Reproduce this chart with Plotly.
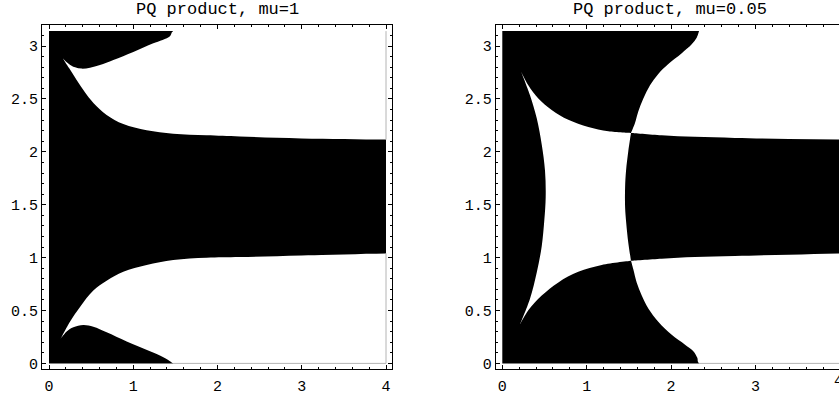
import plotly.graph_objects as go

W, H = 839, 396
PI = 3.14159

# ---------------- mu = 1 (left panel) ----------------
# lower edge of the top black wedge (from cusp to tip at y=pi)
m1_topwedge_x = [0.162, 0.229, 0.309, 0.388, 0.487, 0.605, 0.764, 1.001, 1.238, 1.436, 1.475]
m1_topwedge_y = [2.886, 2.836, 2.799, 2.787, 2.796, 2.821, 2.868, 2.945, 3.026, 3.094, 3.1416]
# upper edge of the central black band (from cusp to x=4)
m1_bandtop_x = [0.162, 0.240, 0.328, 0.420, 0.530, 0.684, 0.882, 1.159, 1.475, 1.871, 2.267, 3.0, 4.0]
m1_bandtop_y = [2.886, 2.790, 2.680, 2.570, 2.460, 2.349, 2.263, 2.204, 2.172, 2.157, 2.145, 2.127, 2.116]
# lower edge of the central black band (from cusp to x=4)
m1_bandbot_x = [0.139, 0.249, 0.368, 0.526, 0.684, 0.882, 1.159, 1.475, 1.871, 2.267, 3.0, 4.0]
m1_bandbot_y = [0.233, 0.394, 0.534, 0.689, 0.782, 0.866, 0.931, 0.978, 0.999, 1.005, 1.020, 1.040]
# upper edge of the bottom black wedge (from cusp to tip at y=0)
m1_botwedge_x = [0.139, 0.210, 0.289, 0.407, 0.526, 0.684, 0.922, 1.199, 1.357, 1.436, 1.475]
m1_botwedge_y = [0.233, 0.301, 0.341, 0.363, 0.347, 0.295, 0.208, 0.115, 0.059, 0.021, 0.0]

# ---------------- mu = 0.05 (right panel) ----------------
# right edge of the top black wedge (tip at y=pi down to crossing)
m2_topwedge_x = [2.331, 2.303, 2.244, 2.126, 1.967, 1.848, 1.750, 1.671, 1.611, 1.572, 1.525]
m2_topwedge_y = [3.1416, 3.079, 3.017, 2.933, 2.831, 2.737, 2.629, 2.505, 2.381, 2.272, 2.179]
# band edges (crossing to x=4)
m2_bandtop_x = [1.525, 1.889, 2.283, 2.757, 3.4, 4.0]
m2_bandtop_y = [2.179, 2.157, 2.142, 2.132, 2.122, 2.116]
m2_bandbot_x = [1.525, 1.889, 2.283, 2.757, 3.4, 4.0]
m2_bandbot_y = [0.971, 0.990, 1.006, 1.015, 1.028, 1.040]
# right edge of the bottom black wedge (crossing down to tip at y=0)
m2_botwedge_x = [1.525, 1.552, 1.592, 1.652, 1.730, 1.848, 2.007, 2.165, 2.263, 2.310, 2.331]
m2_botwedge_y = [0.971, 0.891, 0.766, 0.642, 0.519, 0.394, 0.270, 0.177, 0.115, 0.053, 0.0]
# central white region edges
m2_ctop_x = [0.222, 0.308, 0.427, 0.585, 0.782, 1.019, 1.256, 1.525]
m2_ctop_y = [2.759, 2.629, 2.505, 2.396, 2.303, 2.235, 2.195, 2.179]
m2_cright_x = [1.525, 1.493, 1.466, 1.455, 1.455, 1.468, 1.493, 1.525]
m2_cright_y = [2.179, 2.008, 1.822, 1.667, 1.474, 1.330, 1.139, 0.971]
m2_cbot_x = [1.525, 1.178, 0.900, 0.664, 0.467, 0.308, 0.210]
m2_cbot_y = [0.971, 0.931, 0.866, 0.766, 0.642, 0.503, 0.370]
m2_cleft_x = [0.210, 0.328, 0.408, 0.467, 0.498, 0.514, 0.506, 0.467, 0.408, 0.328, 0.222]
m2_cleft_y = [0.370, 0.612, 0.859, 1.108, 1.357, 1.574, 1.822, 2.070, 2.318, 2.536, 2.759]

XMAX = 4.0
OUT = 0.6  # how far the white fills reach past the black square (hidden margin)

fig = go.Figure()


def poly(xs, ys, color, xa, ya, smooth=True):
    fig.add_trace(go.Scatter(
        x=xs, y=ys, mode="lines", fill="toself", fillcolor=color,
        line=dict(width=0, color=color, shape="spline" if smooth else "linear",
                  smoothing=1.0, simplify=False),
        hoverinfo="skip", showlegend=False, xaxis=xa, yaxis=ya))


def edge(xs, ys, xa, ya):
    fig.add_trace(go.Scatter(x=xs, y=ys, mode="lines", line=dict(width=1, color="#b4b4b4"),
                             hoverinfo="skip", showlegend=False, xaxis=xa, yaxis=ya))


rev = lambda a: list(reversed(a))
TOP = PI + OUT
BOT = -OUT
XO = XMAX + OUT

# ---- left panel ----
poly([0, XMAX, XMAX, 0, 0], [0, 0, PI, PI, 0], "black", "x", "y", smooth=False)
# top white
xs = [m1_topwedge_x[0]] + m1_topwedge_x + [XO, XO, XO] + rev(m1_bandtop_x) + [m1_bandtop_x[0]]
ys = [m1_topwedge_y[0]] + m1_topwedge_y + [TOP, TOP, m1_bandtop_y[-1]] + rev(m1_bandtop_y) + [m1_bandtop_y[0]]
poly(xs, ys, "white", "x", "y")
# bottom white
xs = [m1_botwedge_x[0]] + m1_botwedge_x + [XO, XO, XO] + rev(m1_bandbot_x) + [m1_bandbot_x[0]]
ys = [m1_botwedge_y[0]] + m1_botwedge_y + [BOT, BOT, m1_bandbot_y[-1]] + rev(m1_bandbot_y) + [m1_bandbot_y[0]]
poly(xs, ys, "white", "x", "y")
edge([m1_botwedge_x[-1], XMAX, XMAX], [0, 0, m1_bandbot_y[-1]], "x", "y")
edge([XMAX, XMAX], [m1_bandtop_y[-1], PI], "x", "y")

# ---- right panel ----
poly([0, XMAX, XMAX, 0, 0], [0, 0, PI, PI, 0], "black", "x2", "y2", smooth=False)
xs = [XO, XO, XO] + rev(m2_bandtop_x) + [m2_bandtop_x[0]] + rev(m2_topwedge_x)
ys = [TOP, TOP, m2_bandtop_y[-1]] + rev(m2_bandtop_y) + [m2_bandtop_y[0]] + rev(m2_topwedge_y)
poly(xs, ys, "white", "x2", "y2")
xs = [m2_botwedge_x[0]] + m2_botwedge_x + [XO, XO, XO] + rev(m2_bandbot_x)
ys = [m2_botwedge_y[0]] + m2_botwedge_y + [BOT, BOT, m2_bandbot_y[-1]] + rev(m2_bandbot_y)
poly(xs, ys, "white", "x2", "y2")
xs = [m2_ctop_x[0]] + m2_ctop_x + [m2_cright_x[0]] + m2_cright_x + [m2_cbot_x[0]] + m2_cbot_x \
    + [m2_cleft_x[0]] + m2_cleft_x
ys = [m2_ctop_y[0]] + m2_ctop_y + [m2_cright_y[0]] + m2_cright_y + [m2_cbot_y[0]] + m2_cbot_y \
    + [m2_cleft_y[0]] + m2_cleft_y
poly(xs, ys, "white", "x2", "y2")
edge([m2_botwedge_x[-1], XMAX], [0, 0], "x2", "y2")

mono = "Liberation Mono, Courier New, monospace"
tickfont = dict(family=mono, size=15, color="black")


def xax(domain, rng, mirror):
    return dict(domain=domain, range=rng, showgrid=False, zeroline=False, showline=True,
                linecolor="black", linewidth=1, mirror=mirror, ticks="inside", ticklen=4,
                tickcolor="black", tickwidth=1, tick0=0, dtick=1, tickfont=tickfont,
                ticklabelstandoff=3,
                minor=dict(dtick=0.2, ticks="inside", ticklen=2, tickcolor="black", showgrid=False))


def yax(domain, rng, mirror, anchor):
    return dict(domain=domain, range=rng, showgrid=False, zeroline=False, showline=True,
                linecolor="black", linewidth=1, mirror=mirror, ticks="inside", ticklen=4,
                tickcolor="black", tickwidth=1, tick0=0, dtick=0.5, tickfont=tickfont,
                anchor=anchor,
                minor=dict(dtick=0.1, ticks="inside", ticklen=2, tickcolor="black", showgrid=False))


ydom = [21 / H, 371 / H]
yrng = [-0.0559, 3.203]

fig.update_layout(
    width=W, height=H, margin=dict(l=0, r=0, t=0, b=0),
    paper_bgcolor="white", plot_bgcolor="white",
    xaxis=dict(xax([42 / W, 392 / W], [-0.0831, 4.0712], "ticks"), anchor="y"),
    yaxis=yax(ydom, yrng, "ticks", "x"),
    xaxis2=dict(xax([495.7 / W, 1.0], [-0.0782, 3.989], "ticks"), anchor="y2"),
    yaxis2=yax(ydom, yrng, False, "x2"),
    annotations=[
        dict(text="PQ product, mu=1", x=217 / W, y=1 - 10 / H, xref="paper", yref="paper",
             xanchor="center", yanchor="middle", showarrow=False,
             font=dict(family=mono, size=17, color="black")),
        dict(text="PQ product, mu=0.05", x=670 / W, y=1 - 10 / H, xref="paper", yref="paper",
             xanchor="center", yanchor="middle", showarrow=False,
             font=dict(family=mono, size=17, color="black")),
        dict(text="4", x=838 / W, y=1 - 387 / H, xref="paper", yref="paper",
             xanchor="center", yanchor="middle", showarrow=False, font=tickfont),
    ],
)

fig.write_html("out.html")
